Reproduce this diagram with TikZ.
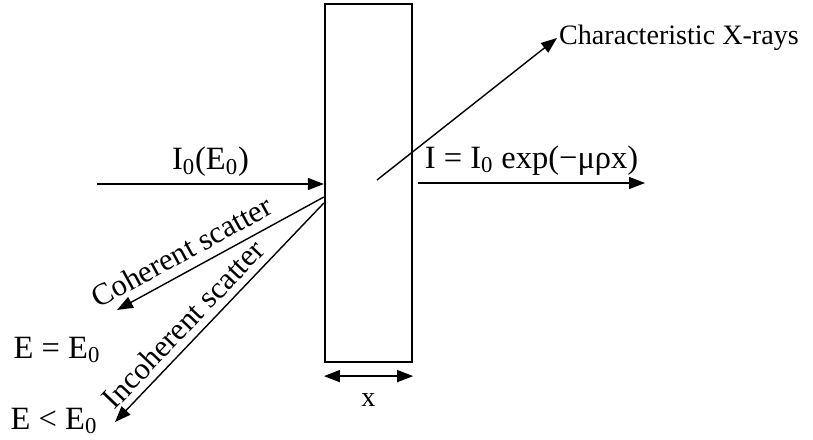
\documentclass[tikz,border=0pt]{standalone}
\usepackage{fontspec}
\setmainfont{Liberation Serif}
\usetikzlibrary{arrows.meta,positioning}

\begin{document}
\begin{tikzpicture}[
    x=0.02cm, y=-0.02cm,
    >={Triangle[length=0.32cm, width=0.24cm]},
    slab/.style={rectangle, draw, line width=1.3pt, minimum width=1.74cm, minimum height=7.16cm, inner sep=0pt},
    arrow/.style={->, line width=0.8pt},
    dimarrow/.style={<->, line width=0.8pt},
    lbl/.style={font=\fontsize{16}{19}\selectfont, inner sep=1pt},
    scatlbl/.style={font=\fontsize{17.5}{21}\selectfont, inner sep=1pt, sloped},
    eqlbl/.style={font=\fontsize{18.5}{22}\selectfont, inner sep=1pt}
]
\useasboundingbox (0,0) rectangle (813,439);

% Absorber slab
\node[slab] (slab) at (368.5,183) {};

% Free ends of the beams
\coordinate (src) at (97,184);
\coordinate (emit) at (377,180);
\node[lbl, anchor=west] (xray) at (557,38) {Characteristic X-rays};
\node[eqlbl] (same) at (57,350) {E = E\textsubscript{0}};
\node[eqlbl] (less) at (54,421) {E < E\textsubscript{0}};
\coordinate (coh) at (117,310);
\coordinate (incoh) at (115,422);
\coordinate (trans) at (645,183);

% Incident beam
\draw[arrow] (src) -- (src -| slab.west)
    node[eqlbl, midway, above=3pt] (inc) {I\textsubscript{0}(E\textsubscript{0})};

% Scattered beams
\draw[arrow] ([yshift=-0.28cm]slab.west) -- (coh)
    node[scatlbl, pos=0.64, above=4pt] (cohlbl) {Coherent scatter};
\draw[arrow] ([yshift=-0.4cm]slab.west) -- (incoh)
    node[scatlbl, pos=0.61, above=3pt] (incohlbl) {Incoherent scatter};

% Transmitted beam
\draw[arrow] ([xshift=0.1cm]slab.east) -- (trans)
    node[eqlbl, midway, above=3pt] (translbl) {I = I\textsubscript{0} exp(−μρx)};

% Fluorescence
\draw[arrow] (emit) -- (xray.west);

% Thickness
\draw[dimarrow] ([yshift=-0.26cm]slab.south west) -- ([yshift=-0.26cm]slab.south east)
    node[lbl, midway, below=0.3cm] (thick) {x};

\end{tikzpicture}
\end{document}
